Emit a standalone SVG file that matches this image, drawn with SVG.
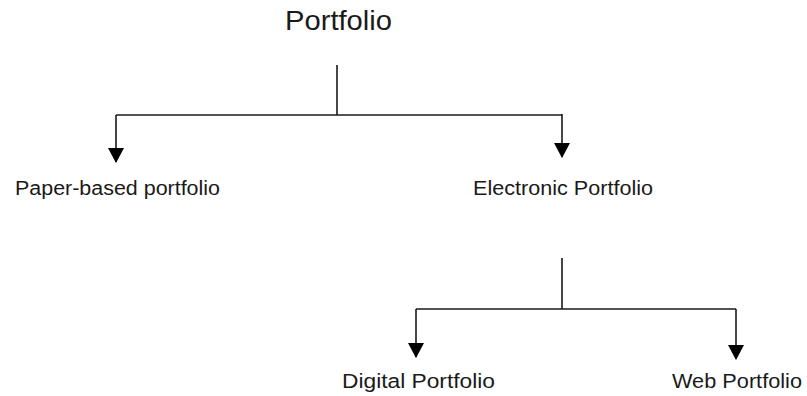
<svg xmlns="http://www.w3.org/2000/svg" width="807" height="396" viewBox="0 0 807 396">
<style>
.t{font-family:"Liberation Sans",Arial,sans-serif;fill:#1a1a1a}
.c{stroke:#1a1a1a;stroke-width:1.6;fill:none}
.a{marker-end:url(#ah)}
</style>
<defs>
<marker id="ah" markerUnits="userSpaceOnUse" markerWidth="16" markerHeight="16" viewBox="0 0 15 16" refX="14" refY="8" orient="auto">
<path d="M0,0 L15,8 L0,16 Z" fill="#000"/>
</marker>
</defs>
<rect width="807" height="396" fill="#fff"/>
<g id="connectors">
<path class="c" d="M337,65 V115"/>
<path class="c" d="M116,115 H562"/>
<path class="c a" d="M116,115 V162"/>
<path class="c a" d="M562,114 V157"/>
<path class="c" d="M562,258 V309"/>
<path class="c" d="M416,309 H736"/>
<path class="c a" d="M416,309 V357"/>
<path class="c a" d="M736,309 V359"/>
</g>
<g id="portfolio"><text class="t" x="285" y="30" font-size="28" textLength="107" lengthAdjust="spacingAndGlyphs">Portfolio</text></g>
<g id="paper"><text class="t" x="15" y="195" font-size="20" textLength="205" lengthAdjust="spacingAndGlyphs">Paper-based portfolio</text></g>
<g id="electronic"><text class="t" x="473" y="195" font-size="20" textLength="180" lengthAdjust="spacingAndGlyphs">Electronic Portfolio</text></g>
<g id="digital"><text class="t" x="342" y="388" font-size="20" textLength="153" lengthAdjust="spacingAndGlyphs">Digital Portfolio</text></g>
<g id="web"><text class="t" x="672" y="388" font-size="20" textLength="130" lengthAdjust="spacingAndGlyphs">Web Portfolio</text></g>
</svg>
